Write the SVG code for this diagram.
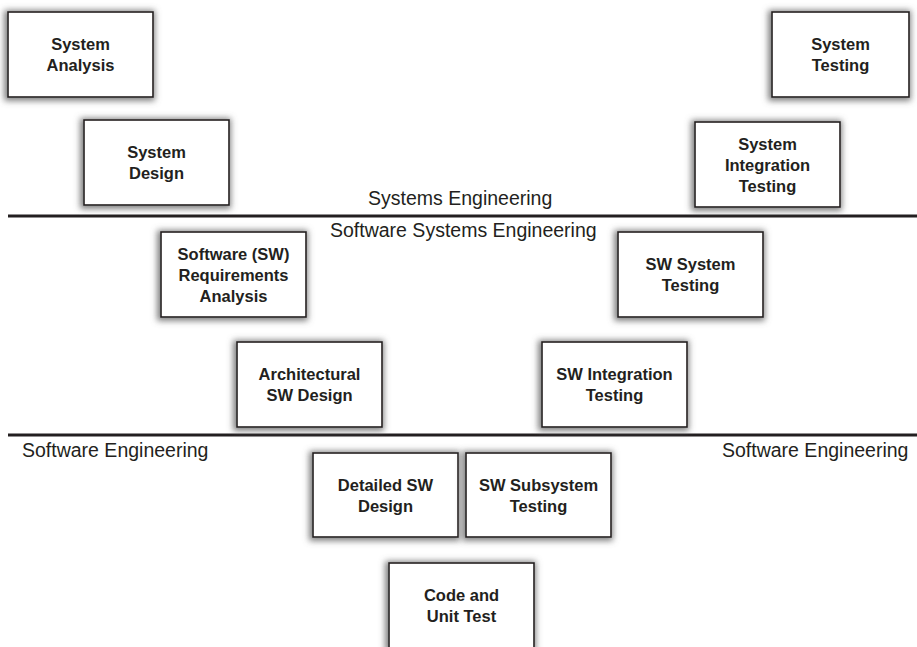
<svg xmlns="http://www.w3.org/2000/svg" width="917" height="647" viewBox="0 0 917 647">
  <style>
    .box { fill: #ffffff; stroke: #231f20; stroke-width: 1.6; filter: url(#halo); }
    .lbl { font-family: "Liberation Sans", Arial, sans-serif; font-weight: bold; font-size: 16.5px; fill: #231f20; text-anchor: middle; }
    .band { font-family: "Liberation Sans", Arial, sans-serif; font-size: 19.5px; fill: #231f20; }
    .rule { stroke: #231f20; stroke-width: 3; }
  </style>
  <defs>
    <!-- soft grey glow behind every box -->
    <filter id="halo" x="-20%" y="-25%" width="140%" height="150%">
      <feMorphology in="SourceAlpha" operator="dilate" radius="1.5" result="d"/>
      <feGaussianBlur in="d" stdDeviation="3" result="b"/>
      <feOffset in="b" dx="-1" dy="1" result="o"/>
      <feFlood flood-color="#6e6e6e" flood-opacity="0.9"/>
      <feComposite in2="o" operator="in" result="s"/>
      <feMerge>
        <feMergeNode in="s"/>
        <feMergeNode in="SourceGraphic"/>
      </feMerge>
    </filter>
  </defs>
  <rect width="917" height="647" fill="#ffffff"/>

  <!-- band dividers and band titles -->
  <g id="connectors">
    <line class="rule" x1="8" y1="216" x2="917" y2="216"/>
    <line class="rule" x1="8" y1="435" x2="917" y2="435"/>
  </g>
  <g id="bands">
    <text class="band" x="368" y="205">Systems Engineering</text>
    <text class="band" x="330" y="237">Software Systems Engineering</text>
    <text class="band" x="22" y="457">Software Engineering</text>
    <text class="band" x="722" y="457">Software Engineering</text>
  </g>

  <g id="system-analysis">
    <rect class="box" x="8" y="12" width="145" height="85"/>
    <text class="lbl" x="80.5" y="50">System</text>
    <text class="lbl" x="80.5" y="71">Analysis</text>
  </g>
  <g id="system-design">
    <rect class="box" x="84" y="120" width="145" height="85"/>
    <text class="lbl" x="156.5" y="158">System</text>
    <text class="lbl" x="156.5" y="179">Design</text>
  </g>
  <g id="system-testing">
    <rect class="box" x="772" y="12" width="137" height="85"/>
    <text class="lbl" x="840.5" y="50">System</text>
    <text class="lbl" x="840.5" y="71">Testing</text>
  </g>
  <g id="system-integration-testing">
    <rect class="box" x="695" y="122" width="145" height="85"/>
    <text class="lbl" x="767.5" y="149.5">System</text>
    <text class="lbl" x="767.5" y="170.5">Integration</text>
    <text class="lbl" x="767.5" y="191.5">Testing</text>
  </g>
  <g id="sw-requirements-analysis">
    <rect class="box" x="161" y="232" width="145" height="85"/>
    <text class="lbl" x="233.5" y="259.5">Software (SW)</text>
    <text class="lbl" x="233.5" y="280.5">Requirements</text>
    <text class="lbl" x="233.5" y="301.5">Analysis</text>
  </g>
  <g id="sw-system-testing">
    <rect class="box" x="618" y="232" width="145" height="85"/>
    <text class="lbl" x="690.5" y="270">SW System</text>
    <text class="lbl" x="690.5" y="291">Testing</text>
  </g>
  <g id="architectural-sw-design">
    <rect class="box" x="237" y="342" width="145" height="85"/>
    <text class="lbl" x="309.5" y="380">Architectural</text>
    <text class="lbl" x="309.5" y="401">SW Design</text>
  </g>
  <g id="sw-integration-testing">
    <rect class="box" x="542" y="342" width="145" height="85"/>
    <text class="lbl" x="614.5" y="380">SW Integration</text>
    <text class="lbl" x="614.5" y="401">Testing</text>
  </g>
  <g id="detailed-sw-design">
    <rect class="box" x="313" y="453" width="145" height="84"/>
    <text class="lbl" x="385.5" y="491">Detailed SW</text>
    <text class="lbl" x="385.5" y="512">Design</text>
  </g>
  <g id="sw-subsystem-testing">
    <rect class="box" x="466" y="453" width="145" height="84"/>
    <text class="lbl" x="538.5" y="491">SW Subsystem</text>
    <text class="lbl" x="538.5" y="512">Testing</text>
  </g>
  <g id="code-and-unit-test">
    <rect class="box" x="389" y="563" width="145" height="85"/>
    <text class="lbl" x="461.5" y="601">Code and</text>
    <text class="lbl" x="461.5" y="622">Unit Test</text>
  </g>
</svg>
